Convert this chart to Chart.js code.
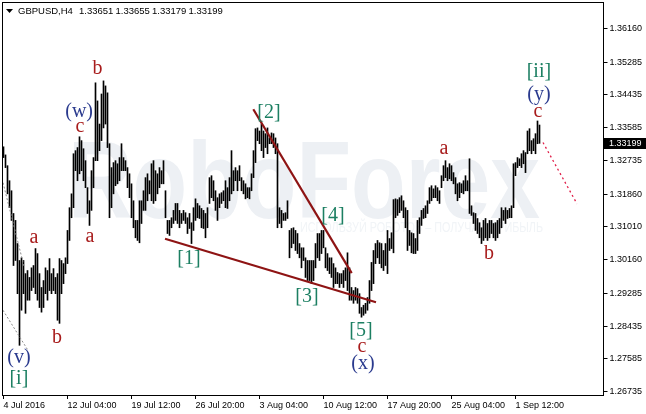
<!DOCTYPE html>
<html><head><meta charset="utf-8">
<script src="https://cdn.jsdelivr.net/npm/chart.js@4.4.0/dist/chart.umd.min.js"></script>
<style>html,body{margin:0;padding:0;background:#fff;}#wrap{width:646px;height:414px;position:relative;}</style>
</head><body><div id="wrap"><canvas id="c" width="646" height="414"></canvas></div>
<script>
// ---- data ----
const symbolTitle = "GBPUSD,H4";
const lastBarOHLC = [1.33651, 1.33655, 1.33179, 1.33199];
const lastPrice = 1.33199;
const tickLabels = ["4 Jul 2016","12 Jul 04:00","19 Jul 12:00","26 Jul 20:00","3 Aug 04:00","10 Aug 12:00","17 Aug 20:00","25 Aug 04:00","1 Sep 12:00"];
const tickStep = 32;
const totalSlots = 301;
const yTicks = [1.36160,1.35285,1.34435,1.33585,1.32735,1.31860,1.31010,1.30160,1.29285,1.28435,1.27585,1.26735];
const yMin = 1.26651, yMax = 1.36788;

const highs = [
1.3309,1.3288,1.3260,1.3221,1.3195,1.3136,1.3118,1.3058,1.3014,1.3021,
1.3014,1.2980,1.2988,1.2970,1.2995,1.3001,1.3045,1.3032,1.2980,1.2944,
1.2962,1.2995,1.2988,1.3019,1.2980,1.2993,1.2970,1.2980,1.3019,1.3014,
1.3006,1.3021,1.3092,1.3151,1.3187,1.3291,1.3299,1.3307,1.3335,1.3325,
1.3304,1.3273,1.3203,1.3169,1.3247,1.3281,1.3475,1.3428,1.3368,1.3446,
1.3480,1.3467,1.3449,1.3317,1.3255,1.3268,1.3273,1.3265,1.3281,1.3317,
1.3281,1.3273,1.3255,1.3239,1.3213,1.3169,1.3118,1.3118,1.3169,1.3169,
1.3195,1.3229,1.3239,1.3221,1.3265,1.3273,1.3247,1.3239,1.3255,1.3247,
1.3273,1.3195,1.3118,1.3118,1.3125,1.3144,1.3162,1.3162,1.3144,1.3136,
1.3144,1.3138,1.3125,1.3136,1.3112,1.3151,1.3174,1.3162,1.3156,1.3149,
1.3144,1.3136,1.3151,1.3229,1.3234,1.3221,1.3195,1.3177,1.3187,1.3190,
1.3195,1.3221,1.3203,1.3229,1.3299,1.3247,1.3255,1.3247,1.3260,1.3229,
1.3221,1.3213,1.3203,1.3203,1.3239,1.3299,1.3356,1.3358,1.3350,1.3368,
1.3350,1.3343,1.3358,1.3332,1.3345,1.3343,1.3332,1.3317,1.3151,1.3144,
1.3136,1.3138,1.3169,1.3092,1.3097,1.3099,1.3092,1.3084,1.3058,1.3047,
1.3047,1.3021,1.3014,1.3014,1.3014,1.3014,1.3058,1.3084,1.3084,1.3092,
1.3092,1.3047,1.3032,1.3021,1.3021,1.3006,1.2995,1.2983,1.2980,1.2980,
1.2988,1.2995,1.3034,1.2995,1.2944,1.2936,1.2944,1.2941,1.2928,1.2892,
1.2898,1.2903,1.2918,1.2962,1.3009,1.3040,1.3058,1.3066,1.3060,1.3058,
1.3040,1.3058,1.3092,1.3071,1.3086,1.3172,1.3174,1.3172,1.3177,1.3182,
1.3169,1.3151,1.3144,1.3092,1.3086,1.3084,1.3071,1.3118,1.3125,1.3144,
1.3149,1.3156,1.3169,1.3203,1.3208,1.3200,1.3208,1.3203,1.3195,1.3234,
1.3260,1.3273,1.3255,1.3265,1.3260,1.3242,1.3229,1.3213,1.3216,1.3213,
1.3221,1.3234,1.3221,1.3278,1.3156,1.3138,1.3136,1.3123,1.3112,1.3099,
1.3118,1.3123,1.3110,1.3118,1.3118,1.3110,1.3112,1.3118,1.3123,1.3151,
1.3144,1.3151,1.3144,1.3149,1.3156,1.3265,1.3268,1.3281,1.3278,1.3291,
1.3299,1.3294,1.3350,1.3356,1.3325,1.3330,1.3343,1.3376,1.33655
];
const lows = [
1.3281,1.3255,1.3187,1.3151,1.3118,1.3001,1.3014,1.2928,1.2794,1.2885,
1.2928,1.2877,1.2911,1.2911,1.2936,1.2944,1.2928,1.2911,1.2892,1.2880,
1.2892,1.2928,1.2911,1.2936,1.2928,1.2936,1.2928,1.2859,1.2851,1.2928,
1.2954,1.2980,1.3006,1.3066,1.3125,1.3151,1.3247,1.3221,1.3239,1.3247,
1.3221,1.3203,1.3136,1.3105,1.3144,1.3203,1.3273,1.3273,1.3299,1.3325,
1.3358,1.3368,1.3307,1.3125,1.3151,1.3187,1.3208,1.3213,1.3221,1.3247,
1.3247,1.3247,1.3203,1.3177,1.3125,1.3099,1.3073,1.3066,1.3060,1.3110,
1.3144,1.3144,1.3169,1.3187,1.3169,1.3162,1.3169,1.3187,1.3203,1.3213,
1.3213,1.3125,1.3084,1.3079,1.3099,1.3110,1.3118,1.3110,1.3099,1.3110,
1.3118,1.3110,1.3084,1.3097,1.3058,1.3092,1.3118,1.3125,1.3123,1.3099,
1.3097,1.3073,1.3099,1.3162,1.3177,1.3169,1.3144,1.3118,1.3151,1.3162,
1.3169,1.3151,1.3149,1.3169,1.3187,1.3195,1.3221,1.3195,1.3221,1.3195,
1.3187,1.3174,1.3177,1.3174,1.3195,1.3229,1.3268,1.3325,1.3317,1.3299,
1.3281,1.3307,1.3291,1.3317,1.3317,1.3307,1.3291,1.3099,1.3110,1.3099,
1.3118,1.3118,1.3123,1.3021,1.3047,1.3058,1.3040,1.3032,1.3021,1.2995,
1.3014,1.2970,1.2962,1.2962,1.2954,1.2962,1.2995,1.3021,1.3014,1.3032,
1.3047,1.2995,1.2988,1.2980,1.2970,1.2944,1.2954,1.2954,1.2944,1.2954,
1.2944,1.2962,1.2936,1.2911,1.2911,1.2903,1.2911,1.2903,1.2877,1.2867,
1.2872,1.2877,1.2885,1.2903,1.2936,1.2954,1.3006,1.3021,1.3006,1.2995,
1.2988,1.3001,1.2980,1.3040,1.3045,1.3034,1.3125,1.3131,1.3138,1.3144,
1.3125,1.3099,1.3040,1.3053,1.3034,1.3032,1.3032,1.3040,1.3084,1.3105,
1.3123,1.3125,1.3136,1.3162,1.3169,1.3177,1.3177,1.3169,1.3162,1.3203,
1.3221,1.3229,1.3221,1.3226,1.3221,1.3213,1.3187,1.3169,1.3177,1.3190,
1.3187,1.3195,1.3195,1.3136,1.3131,1.3110,1.3092,1.3084,1.3073,1.3058,
1.3066,1.3073,1.3066,1.3073,1.3084,1.3073,1.3066,1.3073,1.3084,1.3099,
1.3118,1.3110,1.3123,1.3125,1.3125,1.3151,1.3234,1.3255,1.3260,1.3255,
1.3265,1.3242,1.3291,1.3299,1.3291,1.3299,1.3291,1.3317,1.33179
];

// wave labels (bar index, price)
const waveText  = ['b','(w)','c','a','a','b','(v)','[i]','[1]','[2]','[3]','[4]','[5]','c','(x)','a','b','c','(y)','[ii]'];
const waveIndex = [47,37.8,38.2,15.2,43.2,26.7,7.7,7.7,92.7,132.7,151.7,164.7,178.7,179.2,179.7,220.2,242.7,267.2,267.7,267.7];
const wavePrice = [1.3511,1.3400,1.3361,1.3074,1.3076,1.2813,1.2763,1.2707,1.3019,1.3397,1.2921,1.3131,1.2831,1.2789,1.2745,1.3304,1.3032,1.3400,1.3444,1.3503];
const waveKind  = ['r','n','r','r','r','r','n','g','g','g','g','g','g','r','n','r','r','r','n','g'];

// trend / guide lines: [i1, p1, i2, p2]
const trendLines = [[124.9,1.34065,174.1,1.29814],[80.75,1.30704,186.25,1.29056]];
const grayDotted = [[-0.25,1.3216,10.25,1.2999],[-0.25,1.2885,12.25,1.2781]];
const redDotted  = [[269.75,1.3320,286.75,1.3161]];

// ---- build ----
const labels = [];
for (let i = 0; i < totalSlots; i++) {
  labels.push(i % tickStep === 0 && (i / tickStep) < tickLabels.length ? tickLabels[i / tickStep] : '');
}
const ranges = highs.map((h, i) => [lows[i], h]);
const colorOf = {r:'#A81C1C', n:'#2A3A8E', g:'#1C7F62'};

const decor = {
  id: 'decor',
  beforeDatasetsDraw(chart) {
    const ctx = chart.ctx;
    ctx.save();
    ctx.fillStyle = '#EDF0F4';
    ctx.font = 'bold 109px "Liberation Sans", Arial, sans-serif';
    ctx.textBaseline = 'alphabetic';
    const w = ctx.measureText('RoboForex').width;
    ctx.translate(68, 218);
    ctx.scale(472 / w, 1);
    ctx.fillText('RoboForex', 0, 0);
    ctx.restore();
    ctx.save();
    ctx.fillStyle = '#F1F4F7';
    ctx.font = '14px "Liberation Sans", Arial, sans-serif';
    const t = 'ИСПОЛЬЗУЙ РОБОТОВ – ПОЛУЧАЙ ПРИБЫЛЬ';
    const w2 = ctx.measureText(t).width;
    ctx.translate(300, 232);
    ctx.scale(243 / w2, 1);
    ctx.fillText(t, 0, 0);
    ctx.restore();
  },
  afterDatasetsDraw(chart) {
    const ctx = chart.ctx, xs = chart.scales.x, ys = chart.scales.y;
    const P = (i, p) => [xs.getPixelForValue(i), ys.getPixelForValue(p)];
    ctx.save();
    ctx.strokeStyle = '#8a8a8a'; ctx.lineWidth = 1; ctx.setLineDash([2, 2]);
    grayDotted.forEach(l => { const a = P(l[0], l[1]), b = P(l[2], l[3]); ctx.beginPath(); ctx.moveTo(a[0], a[1]); ctx.lineTo(b[0], b[1]); ctx.stroke(); });
    ctx.strokeStyle = '#E01E48'; ctx.lineWidth = 1.3; ctx.setLineDash([2, 3]);
    redDotted.forEach(l => { const a = P(l[0], l[1]), b = P(l[2], l[3]); ctx.beginPath(); ctx.moveTo(a[0], a[1]); ctx.lineTo(b[0], b[1]); ctx.stroke(); });
    ctx.setLineDash([]); ctx.strokeStyle = '#8E1414'; ctx.lineWidth = 2.2;
    trendLines.forEach(l => { const a = P(l[0], l[1]), b = P(l[2], l[3]); ctx.beginPath(); ctx.moveTo(a[0], a[1]); ctx.lineTo(b[0], b[1]); ctx.stroke(); });
    ctx.font = '20px "Liberation Serif", "Times New Roman", serif';
    ctx.textAlign = 'center'; ctx.textBaseline = 'middle';
    waveText.forEach((t, k) => {
      const a = P(waveIndex[k], wavePrice[k]);
      ctx.fillStyle = colorOf[waveKind[k]];
      ctx.fillText(t, a[0], a[1]);
    });
    ctx.restore();
  },
  afterDraw(chart) {
    const ctx = chart.ctx, ys = chart.scales.y;
    ctx.save();
    ctx.strokeStyle = '#000'; ctx.lineWidth = 1;
    ctx.strokeRect(2.5, 2.5, 601, 393);
    ctx.fillStyle = '#000';
    ctx.beginPath(); ctx.moveTo(6, 9); ctx.lineTo(13, 9); ctx.lineTo(9.5, 13); ctx.closePath(); ctx.fill();
    ctx.font = '9.5px "Liberation Sans", Arial, sans-serif';
    ctx.textBaseline = 'middle'; ctx.textAlign = 'left';
    ctx.fillText(symbolTitle, 18, 11);
    const xs0 = [79, 115.5, 152, 188.5];
    lastBarOHLC.forEach((v, k) => ctx.fillText(v.toFixed(5), xs0[k], 11));
    ctx.font = '9px "Liberation Sans", Arial, sans-serif';
    const y = Math.round(ys.getPixelForValue(lastPrice));
    ctx.fillStyle = '#000';
    ctx.fillRect(604, y - 5, 42, 11);
    ctx.fillStyle = '#fff';
    ctx.fillText(lastPrice.toFixed(5), 609, y + 0.5);
    ctx.restore();
  }
};

new Chart(document.getElementById('c'), {
  type: 'bar',
  data: { labels: labels, datasets: [{ data: ranges, backgroundColor: '#000', borderWidth: 0, barThickness: 1, borderSkipped: false, clip: false }] },
  options: {
    responsive: false, animation: false, devicePixelRatio: 1,
    layout: { padding: { left: 3.5, top: 3, right: 0, bottom: 0 } },
    plugins: { legend: { display: false }, tooltip: { enabled: false } },
    scales: {
      x: {
        offset: false,
        grid: { display: true, offset: false, drawOnChartArea: false, drawTicks: true, tickLength: 4, color: '#000' },
        border: { display: false },
        ticks: {
          autoSkip: false, maxRotation: 0, minRotation: 0, align: 'start', padding: 1, color: '#000',
          font: { family: '"Liberation Sans", Arial, sans-serif', size: 9 },
          callback: function (v) { const l = this.getLabelForValue(v); return l === '' ? null : l; }
        },
        afterFit: s => { s.height = 19; }
      },
      y: {
        position: 'right', min: yMin, max: yMax,
        grid: { display: true, drawOnChartArea: false, drawTicks: true, tickLength: 4, color: '#000' },
        border: { display: false },
        afterBuildTicks: s => { s.ticks = yTicks.map(v => ({ value: v })); },
        ticks: { padding: 2, color: '#000', font: { family: '"Liberation Sans", Arial, sans-serif', size: 9, lineHeight: 0.5 }, callback: v => v.toFixed(5) },
        afterFit: s => { s.width = 42.5; }
      }
    }
  },
  plugins: [decor]
});
</script></body></html>
